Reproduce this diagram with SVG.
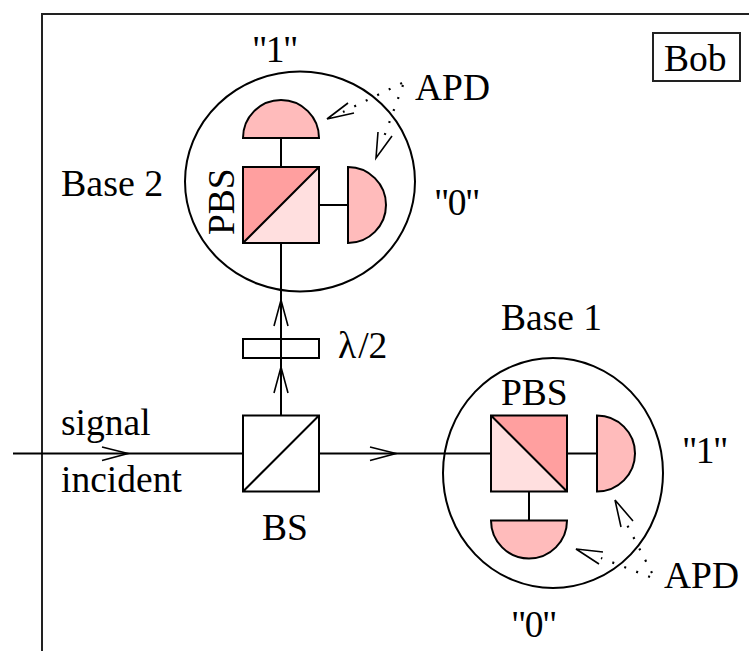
<svg xmlns="http://www.w3.org/2000/svg" width="749" height="651" viewBox="0 0 749 651">
<style>
text{font-family:"Liberation Serif","Times New Roman",serif;font-size:37.5px;fill:#000}
.q{letter-spacing:-1.5px}
.l{fill:none;stroke:#000;stroke-width:2}
.f{fill:none;stroke:#222;stroke-width:2}
.a{fill:none;stroke:#000;stroke-width:1.6}
.d{fill:none;stroke:#000;stroke-width:2.2;stroke-dasharray:2 10.8}
.det{fill:#ffbbbb;stroke:#000;stroke-width:2}
.dark{fill:#ff9f9f}
.light{fill:#ffdfdf}
</style>
<rect width="749" height="651" fill="#fff"/>
<g id="frame"><path class="f" d="M42 651V14H749"/></g>
<g id="connectors">
<path class="l" d="M13 453.5H243M319 453.5H491M281 415.5V243M281 167V138M319 205H348M567 453.5H597M529 491.5V520.5"/>
<path class="a" d="M274 326L281 300L288 326M274 393L281 367L288 393M370 447L396 453.5L370 460.5M102 447L128 453.5L102 460.5"/>
<path class="d" d="M402 83L343 112M403 85L381 145"/>
<path class="a" d="M348 103L327 119L354 113M392 136L376 158L378 132"/>
<path class="d" d="M652 573L623 517M650 577L601 558"/>
<path class="a" d="M603 552L576 549L599 564M633 521L615 500L621 527"/>
</g>
<g id="bob"><rect x="653" y="33" width="87" height="48" fill="#fff" stroke="#222" stroke-width="2"/><text x="664" y="71">Bob</text></g>
<g id="base2">
<ellipse class="l" cx="300" cy="181.5" rx="115" ry="110"/>
</g>
<g id="pbs2">
<rect x="243" y="167" width="76" height="76" class="light"/>
<path class="dark" d="M243 167H319L243 243Z"/>
<path class="l" d="M243 167H319V243H243ZM243 243L319 167"/>
</g>
<g id="det2-top"><path class="det" d="M243 138A38 38 0 0 1 319 138Z"/></g>
<g id="det2-right"><path class="det" d="M348 167A38 38 0 0 1 348 243Z"/></g>
<g id="waveplate"><rect class="l" x="243" y="339" width="76" height="19"/><path class="l" d="M281 339V358"/></g>
<g id="bs"><path class="l" d="M243 415.5H319V491.5H243ZM243 491.5L319 415.5"/></g>
<g id="base1"><ellipse class="l" cx="553" cy="473" rx="110" ry="115"/></g>
<g id="pbs1">
<rect x="491" y="415.5" width="76" height="76" class="light"/>
<path class="dark" d="M491 415.5H567V491.5Z"/>
<path class="l" d="M491 415.5H567V491.5H491ZM491 415.5L567 491.5"/>
</g>
<g id="det1-right"><path class="det" d="M597 415.5A38 38 0 0 1 597 491.5Z"/></g>
<g id="det1-bottom"><path class="det" d="M491 520.5A38 38 0 0 0 567 520.5Z"/></g>
<g id="labels">
<text class="q" x="252" y="62">"1"</text>
<text x="415" y="100">APD</text>
<text x="61" y="196" style="font-size:38px">Base 2</text>
<text class="q" x="434" y="215">"0"</text>
<text transform="translate(234 235) rotate(-90)">PBS</text>
<text x="501" y="330">Base 1</text>
<text x="338" y="358" dx="0 2 0">λ/2</text>
<text x="501" y="405">PBS</text>
<text x="61" y="435">signal</text>
<text x="61" y="492">incident</text>
<text class="q" x="682" y="463">"1"</text>
<text x="262" y="540">BS</text>
<text x="664" y="588">APD</text>
<text class="q" x="511" y="637">"0"</text>
</g>
</svg>
